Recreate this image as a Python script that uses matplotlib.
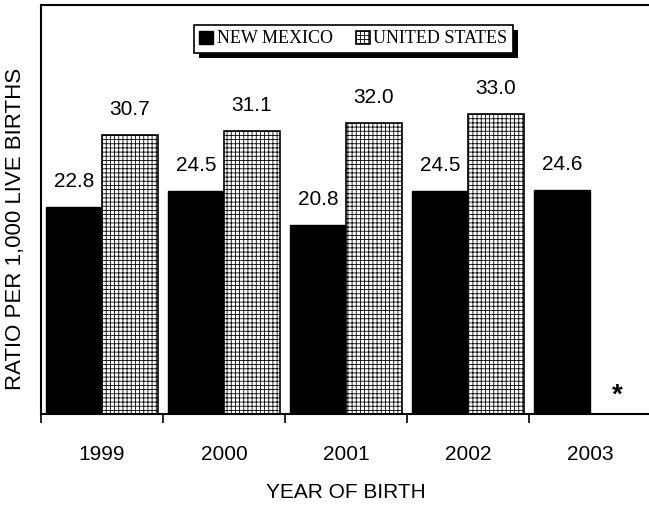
import numpy as np
import matplotlib.pyplot as plt
from matplotlib.patches import Rectangle
from matplotlib.transforms import IdentityTransform

years = ['1999', '2000', '2001', '2002', '2003']
new_mexico = [22.8, 24.5, 20.8, 24.5, 24.6]
united_states = [30.7, 31.1, 32.0, 33.0, None]  # 2003 not available (*)

plt.rcParams['font.family'] = 'Liberation Sans'
plt.rcParams['hatch.linewidth'] = 0.6

fig = plt.figure(figsize=(6.49, 5.05), dpi=100)
ax = fig.add_axes([41 / 649, 91 / 505, 610 / 649, 409 / 505])

x = np.arange(len(years))
w = 0.455

ax.bar(x - w / 2, new_mexico, width=w, color='black',
       edgecolor='black', linewidth=1, label='NEW MEXICO')
us_x = [xi + w / 2 for xi, v in zip(x, united_states) if v is not None]
us_v = [v for v in united_states if v is not None]
ax.bar(us_x, us_v, width=w, color='white', edgecolor='black',
       hatch='++++', linewidth=1.2, label='UNITED STATES')

for xi, v in zip(x, new_mexico):
    ax.annotate(f'{v:.1f}', (xi - w / 2, v), xytext=(0, 18.5), textcoords='offset points',
                ha='center', va='center', fontsize=15)
for xi, v in zip(us_x, us_v):
    ax.annotate(f'{v:.1f}', (xi, v), xytext=(0, 18.5), textcoords='offset points',
                ha='center', va='center', fontsize=15)

ax.text(4 + w / 2, 2.0, '*', ha='center', va='center', fontsize=20, fontweight='bold')

ax.set_xlim(-0.5, 4.5)
ax.set_ylim(0, 45)
ax.set_xticks(x)
ax.set_xticklabels(years, fontsize=15)
ax.tick_params(axis='x', which='major', length=0, pad=22)
ax.set_xticks(np.arange(-0.5, 5, 1), minor=True)
ax.tick_params(axis='x', which='minor', length=6.5, width=1.2, direction='out')
ax.set_yticks([])

for s in ['left', 'top', 'bottom']:
    ax.spines[s].set_linewidth(1.5)
ax.spines['right'].set_visible(False)

ax.set_xlabel('YEAR OF BIRTH', fontsize=15, va='center')
ax.xaxis.set_label_coords(0.5, -0.193)
ax.set_ylabel('RATIO PER 1,000 LIVE BIRTHS', fontsize=16, va='center')
ax.yaxis.set_label_coords(-0.042, 0.452)

leg = ax.legend(loc='center', bbox_to_anchor=(0.512, 0.917), ncol=2, frameon=True,
                fancybox=False, shadow=False, edgecolor='black', framealpha=1,
                prop={'family': 'Liberation Serif', 'size': 13},
                handlelength=0.75, handleheight=0.75, handletextpad=0.2,
                columnspacing=1.3, borderpad=0.3)
leg.get_frame().set_linewidth(1.2)

# drop shadow under the legend box
fig.canvas.draw()
bb = leg.get_frame().get_window_extent()
shadow = Rectangle((bb.x0 + 5, bb.y0 - 5), bb.width, bb.height, facecolor='black',
                   edgecolor='none', transform=IdentityTransform(), zorder=4.9)
ax.add_artist(shadow)

fig.savefig('out.png', dpi=100)
